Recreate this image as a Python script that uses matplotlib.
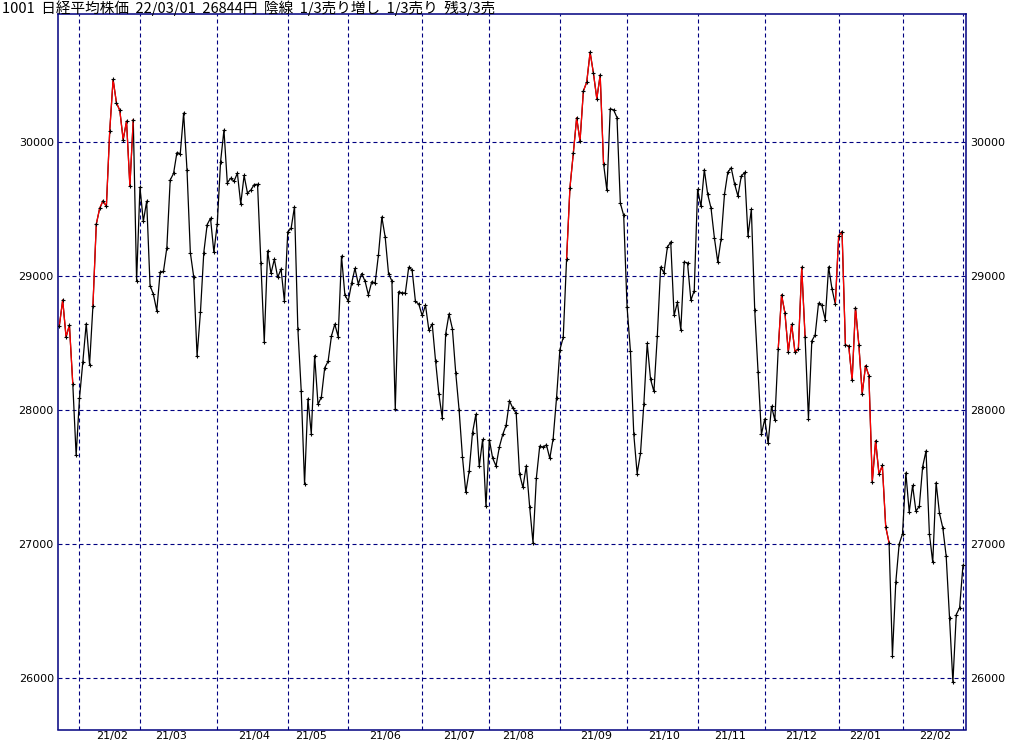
import matplotlib
matplotlib.use("Agg")
import matplotlib.pyplot as plt

# daily closes, 2021/01/22 .. 2022/03/01
jan21 = [28631, 28822, 28546, 28635, 28197, 27663]
feb21 = [28091, 28362, 28646, 28341, 28779, 29388, 29505, 29562, 29520, 30084,
         30467, 30292, 30236, 30017, 30156, 29671, 30168, 28966]
mar21 = [29663, 29408, 29559, 28930, 28864, 28743, 29028, 29036, 29211, 29717,
         29766, 29921, 29914, 30216, 29792, 29174, 28995, 28405, 28729, 29176,
         29384, 29432, 29178]
apr21 = [29388, 29854, 30089, 29696, 29730, 29708, 29768, 29538, 29751, 29620,
         29642, 29683, 29685, 29100, 28508, 29188, 29020, 29126, 28991, 29053, 28812]
may21 = [29331, 29357, 29518, 28608, 28147, 27448, 28084, 27824, 28406, 28044,
         28098, 28317, 28364, 28553, 28642, 28549, 29149, 28860]
jun21 = [28814, 28946, 29058, 28941, 29019, 28963, 28860, 28958, 28948, 29161,
         29441, 29291, 29018, 28964, 28010, 28884, 28874, 28875, 29066, 29048,
         28812, 28791]
jul21 = [28707, 28783, 28598, 28643, 28366, 28118, 27940, 28569, 28718, 28608,
         28279, 28003, 27652, 27388, 27548, 27833, 27970, 27581, 27782, 27283]
aug21 = [27781, 27642, 27584, 27728, 27820, 27888, 28070, 28015, 27977, 27523,
         27424, 27585, 27281, 27013, 27494, 27732, 27724, 27742, 27641, 27789, 28089]
sep21 = [28451, 28543, 29128, 29660, 29916, 30181, 30008, 30381, 30447, 30670,
         30512, 30323, 30500, 29840, 29639, 30248, 30240, 30183, 29544, 29453]
oct21 = [28771, 28444, 27822, 27528, 27678, 28048, 28498, 28230, 28140, 28550,
         29068, 29025, 29215, 29255, 28708, 28804, 28600, 29106, 29098, 28820, 28892]
nov21 = [29647, 29520, 29794, 29611, 29507, 29285, 29106, 29277, 29609, 29776,
         29808, 29688, 29598, 29745, 29774, 29302, 29499, 28751, 28283, 27821]
dec21 = [27935, 27753, 28029, 27927, 28455, 28860, 28725, 28437, 28640, 28432,
         28459, 29066, 28545, 27937, 28517, 28562, 28798, 28782, 28676, 29069,
         28906, 28791]
jan22 = [29301, 29332, 28487, 28478, 28222, 28765, 28489, 28124, 28333, 28257,
         27467, 27772, 27522, 27588, 27131, 27011, 26170, 26717, 27001]
feb22 = [27078, 27533, 27241, 27439, 27248, 27284, 27580, 27696, 27080, 26865,
         27460, 27232, 27122, 26911, 26450, 25971, 26476, 26527]
mar22 = [26844]

months = [jan21, feb21, mar21, apr21, may21, jun21, jul21, aug21, sep21,
          oct21, nov21, dec21, jan22, feb22, mar22]
month_labels = ['21/02', '21/03', '21/04', '21/05', '21/06', '21/07', '21/08',
                '21/09', '21/10', '21/11', '21/12', '22/01', '22/02']
# where the month labels sit (in trading-day units)
label_pos = [15.7, 33.2, 57.9, 74.8, 96.9, 118.9, 136.5, 159.7, 179.9, 199.6, 220.9, 239.8, 260.6]

# red stretches (first, last day index)
red_runs = [(0, 4), (10, 22), (151, 162), (214, 222), (231, 247)]

title = '1001  日経平均株価  22/03/01  26844円  陰線  1/3売り増し  1/3売り  残3/3売'

closes = [v for m in months for v in m]
days = list(range(len(closes)))
month_starts = []
n = 0
for m in months[:-1]:
    n += len(m)
    month_starts.append(n)

navy = '#000080'

fig = plt.figure(figsize=(10.24, 7.45), dpi=100)
ax = fig.add_axes([58/1024, 1-729.5/745, 908/1024, 715.5/745])

ax.plot(days, closes, color='black', lw=0.9, zorder=3)
for a, b in red_runs:
    ax.plot(days[a:b+1], closes[a:b+1], color='#ff0000', lw=0.9, zorder=4)
ax.plot(days, closes, ls='none', marker='+', ms=3, mew=0.8, color='black', zorder=5)

ax.set_xlim(-0.4, 269.9)
ax.set_ylim(25619, 30955)

ax.set_yticks([26000, 27000, 28000, 29000, 30000])
ax.set_xticks(month_starts)
ax.set_xticklabels([])
ax.set_xticks(label_pos, minor=True)
ax.set_xticklabels(month_labels, minor=True)

ax.grid(True, which='major', color=navy, lw=0.8, ls=(0, (3.6, 2.7)))
ax.tick_params(axis='both', which='both', length=0)
ax.tick_params(axis='y', labelright=True, labelsize=8, pad=3)
ax.tick_params(axis='x', which='minor', labelsize=8, pad=1)

for s in ax.spines.values():
    s.set_color(navy)
    s.set_linewidth(1.1)

fig.text(2/1024, 1-8/745, title, va='center', ha='left', fontsize=10.5,
         family=['Noto Sans CJK JP', 'DejaVu Sans'])

fig.savefig('out.png', dpi=100)
